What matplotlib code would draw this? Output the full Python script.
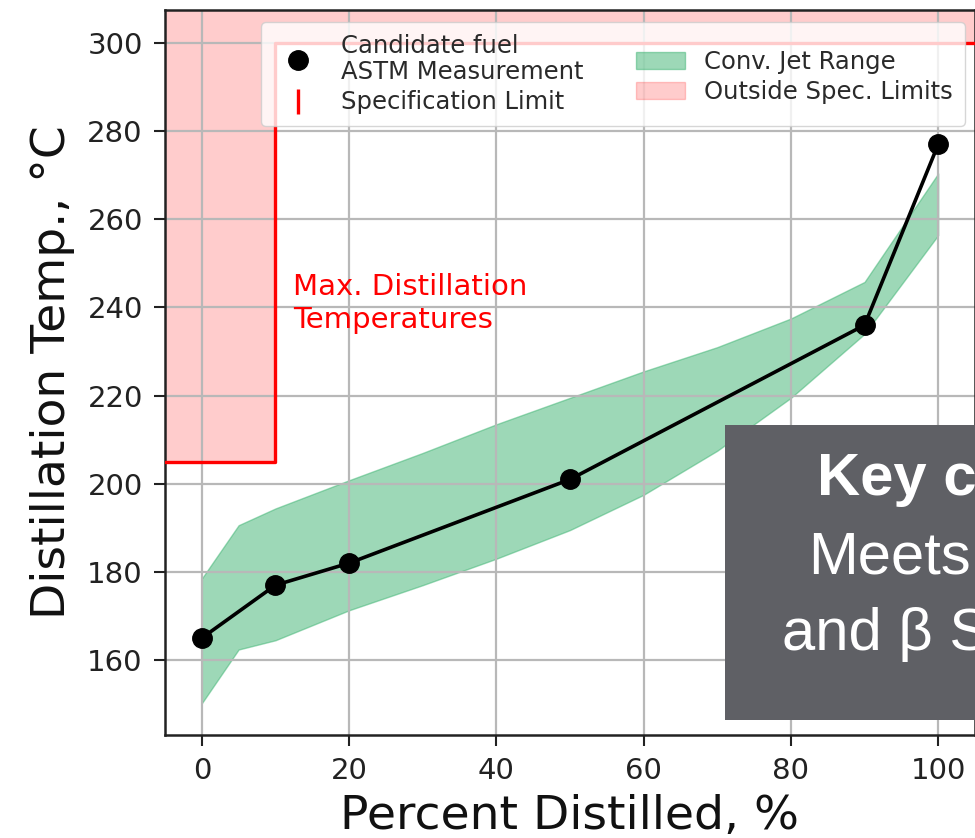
import matplotlib
matplotlib.use("Agg")
import matplotlib.pyplot as plt
from matplotlib.lines import Line2D
from matplotlib.patches import Patch, Rectangle

# Candidate fuel, ASTM D86 distillation points
pct_distilled = [0, 10, 20, 50, 90, 100]
candidate_temp = [165, 177, 182, 201, 236, 277]

# Conventional jet fuel envelope
jet_pct = [0, 5, 10, 20, 30, 40, 50, 60, 70, 80, 90, 100]
jet_low = [150.2, 162.4, 164.5, 171.3, 177.0, 183.0, 189.5, 197.5, 207.5, 219.5, 234.0, 256.4]
jet_high = [178.5, 190.6, 194.4, 200.8, 207.0, 213.5, 219.5, 225.5, 231.0, 237.5, 245.8, 270.4]

# Specification maximum distillation temperatures
spec_pct = [-5, 10, 10, 105]
spec_max_temp = [205, 205, 300, 300]

x_ticks = [0, 20, 40, 60, 80, 100]
y_ticks = [160, 180, 200, 220, 240, 260, 280, 300]
x_lim = (-5, 105)
y_lim = (143, 307.5)

fig = plt.figure(figsize=(9.75, 8.38), dpi=100)
ax = fig.add_axes([165 / 975, 1 - 735 / 838, 810 / 975, 725 / 838])
ax.set_xlim(*x_lim)
ax.set_ylim(*y_lim)

# spec region
ax.fill_between(spec_pct, spec_max_temp, y_lim[1], color="red", alpha=0.2, lw=0)
ax.plot(spec_pct, spec_max_temp, color="red", lw=2.4, zorder=3)

# jet envelope
ax.fill_between(jet_pct, jet_low, jet_high, facecolor="mediumseagreen", alpha=0.5,
                edgecolor="mediumseagreen", lw=1.0)

# candidate fuel
ax.plot(pct_distilled, candidate_temp, color="black", lw=2.6, marker="o",
        markersize=14, zorder=4)

ax.text(12.4, 242.8, "Max. Distillation", color="red", fontsize=21,
        va="baseline", ha="left")
ax.text(12.4, 235.3, "Temperatures", color="red", fontsize=21,
        va="baseline", ha="left")

ax.set_xticks(x_ticks)
ax.set_yticks(y_ticks)
ax.grid(True, color="#b8b8b8", lw=1.6)
ax.tick_params(axis="both", direction="out", length=8, width=1.5, pad=8,
               colors="#222222", labelsize=21)
for s in ax.spines.values():
    s.set_linewidth(1.8)
    s.set_color("#222222")

ax.set_xlabel("Percent Distilled, %", fontsize=34, labelpad=6, color="#111111")
ax.set_ylabel("Distillation Temp., \u00b0C", fontsize=34, labelpad=9, color="#111111")

handles = [
    Line2D([], [], color="black", marker="o", ls="none", markersize=14),
    Line2D([], [], color="red", marker="|", ls="none", markersize=18, markeredgewidth=2.4),
    Patch(facecolor="mediumseagreen", alpha=0.5, edgecolor="mediumseagreen"),
    Patch(facecolor="red", alpha=0.2, edgecolor="red"),
]
labels = ["Candidate fuel\nASTM Measurement", "Specification Limit",
          "Conv. Jet Range", "Outside Spec. Limits"]
leg = ax.legend(handles, labels, ncol=2, loc="upper right",
                bbox_to_anchor=((965 - 165) / 810, (735 - 22) / 725),
                borderaxespad=0, prop={"size": 17.5},
                framealpha=0.8, handlelength=2.0, labelspacing=0.25,
                columnspacing=2.15, borderpad=0.5, handletextpad=0.8)
for t in leg.get_texts():
    t.set_color("#2a2a2a")
    t.set_linespacing(1.1)

# overlay panel
fig.patches.append(Rectangle((725 / 975, 1 - 720 / 838), 0.3, 295 / 838,
                             transform=fig.transFigure, facecolor="#5f6065",
                             edgecolor="none", zorder=10))
fig.text(817 / 975, 1 - 495 / 838, "Key c", color="white", fontsize=43,
         fontweight="bold", family="Liberation Sans", va="baseline", zorder=11)
fig.text(808 / 975, 1 - 573 / 838, "Meets", color="white", fontsize=43,
         family="Liberation Sans", va="baseline", zorder=11)
fig.text(782 / 975, 1 - 650 / 838, "and \u03b2 S", color="white", fontsize=43,
         family="Liberation Sans", va="baseline", zorder=11)

fig.savefig("out.png", dpi=100)
